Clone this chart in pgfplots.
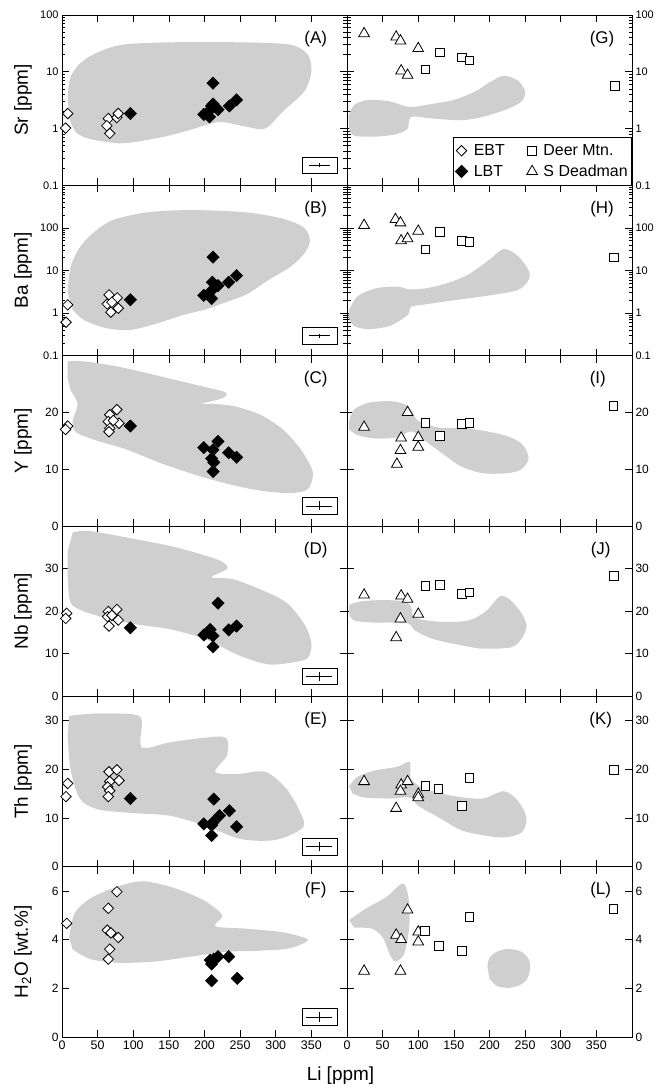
\documentclass[border=0pt]{standalone}
\usepackage{fontspec}
\setmainfont{Liberation Sans}
\usepackage{pgfplots}
\pgfplotsset{compat=1.18}

\definecolor{field}{gray}{0.81}

\pgfplotsset{
  panel/.style={
    scale only axis, width=285bp, height=170.33bp, anchor=south west,
    xmin=0, xmax=400, xtick={0,50,...,350},
    /pgf/number format/assume math mode=true,
    tick align=inside, major tick length=7bp, minor tick length=3.5bp,
    tick style={black, line width=0.6pt},
    axis line style={line width=0.8pt},
    x tick label style={font=\fontsize{12.5}{14}\selectfont},
    y tick label style={font=\fontsize{12}{14}\selectfont},
    ylabel style={font=\fontsize{19}{22}\selectfont, at={(axis description cs:-0.137,0.5)}, anchor=center},
    clip=false,
  },
  nox/.style={xticklabels={}},
  logA/.style={ymin=0.1, ymax=100, ytick={0.1,1,10,100}, yticklabels={0.1,1,10,100},
    minor ytick={0.2,0.3,0.4,0.5,0.6,0.7,0.8,0.9,2,3,4,5,6,7,8,9,20,30,40,50,60,70,80,90},
    y tick label style={font=\fontsize{11}{13}\selectfont}},
  logB/.style={ymin=0.1, ymax=1000, ytick={0.1,1,10,100}, yticklabels={0.1,1,10,100},
    minor ytick={0.2,0.3,0.4,0.5,0.6,0.7,0.8,0.9,2,3,4,5,6,7,8,9,20,30,40,50,60,70,80,90,200,300,400,500,600,700,800,900},
    y tick label style={font=\fontsize{11}{13}\selectfont}},
  rightpanel/.style={yticklabel pos=right},
  field/.style={fill=field, draw=none, forget plot, smooth},
  ebt/.style={only marks, mark=square*, mark size=3.7bp, mark options={rotate=45, fill=white, draw=black, line width=0.8pt}},
  lbt/.style={only marks, mark=square*, mark size=4.4bp, mark options={rotate=45, fill=black, draw=black}},
  deer/.style={only marks, mark=square*, mark size=4.3bp, mark options={fill=white, draw=black, line width=0.8pt}},
  sdead/.style={only marks, mark=triangle*, mark size=6.2bp, mark options={fill=white, draw=black, line width=0.8pt}},
  errbar/.style={forget plot, black, line width=0.7pt, mark=|, mark size=#1, mark options={line width=0.7pt},
    error bars/x dir=both, error bars/x explicit, error bars/error mark=none,
    error bars/error bar style={line width=0.7pt}},
}
\newcommand{\errbox}{\draw[line width=0.7pt] (rel axis cs:0.842,0.069) rectangle (rel axis cs:0.967,0.166);}
\newcommand{\plabel}[2]{\node[font=\fontsize{17}{20}\selectfont] at (rel axis cs:#1,0.86) {#2};}

\begin{document}
\begin{tikzpicture}

% (A) Sr
\begin{axis}[panel, nox, ymode=log, logA, at={(0bp,851.67bp)}, ylabel={Sr [ppm]}]
\addplot[field] coordinates {(8,4) (12,8) (25,14) (50,22) (85,30) (150,33) (250,33) (320,30) (345,20) (350,10) (340,4.5) (310,2) (285,1.0) (255,1.1) (220,1.3) (180,0.95) (150,0.75) (110,0.6) (80,0.55) (40,0.65) (20,0.85) (10,1.5)};
\errbox
\addplot[errbar=2bp] coordinates {(361,0.226) +- (15,0)};
\addplot[ebt] coordinates {(8,1.84) (5,1.02) (65,1.5) (63,1.12) (67,0.82) (77,1.56) (79,1.84)};
\addplot[lbt] coordinates {(96,1.84) (212,6.3) (245,3.2) (235,2.5) (199,1.77) (210,2.5) (219,2.16) (207,1.6) (205,1.95) (212,2.7)};
\plabel{0.89}{(A)}
\end{axis}

% (G) Sr
\begin{axis}[panel, nox, ymode=log, logA, rightpanel, at={(285bp,851.67bp)},
  legend columns=2, legend cell align=left,
  legend style={at={(1,0)}, anchor=south east, draw=black, line width=0.7pt,
    font=\fontsize{16}{18}\selectfont, inner xsep=2bp, inner ysep=5bp, row sep=4bp,
    /tikz/every odd column/.append style={column sep=4bp},
    /tikz/every even column/.append style={column sep=20bp}}]
\addplot[field] coordinates {(2,1.6) (10,2.6) (30,3.2) (60,3.0) (87,2.4) (110,2.6) (150,3.2) (180,4.5) (200,6.5) (220,8.5) (240,7) (250,4.5) (245,3) (225,2.2) (190,1.6) (160,1.4) (120,1.5) (90,1.6) (85,1.0) (70,0.8) (40,0.72) (10,0.75) (3,1.0)};
\addlegendimage{ebt}\addlegendentry{EBT}
\addlegendimage{deer}\addlegendentry{Deer Mtn.}
\addlegendimage{lbt}\addlegendentry{LBT}
\addlegendimage{sdead}\addlegendentry{S Deadman}
\addplot[sdead, forget plot] coordinates {(24,47) (69,41) (75,35) (100,25.7) (76,10.4) (85,8.7)};
\addplot[deer, forget plot] coordinates {(130,21.9) (110,11) (161,17.8) (172,15.9) (376,5.6)};
\plabel{0.895}{(G)}
\end{axis}

% (B) Ba
\begin{axis}[panel, nox, ymode=log, logB, at={(0bp,681.33bp)}, ylabel={Ba [ppm]}]
\addplot[field] coordinates {(8,3) (12,12) (25,35) (45,80) (70,150) (110,220) (150,255) (200,260) (260,230) (310,165) (340,100) (348,50) (340,25) (320,12) (290,6) (260,2.8) (230,1.8) (200,1.2) (170,0.9) (130,0.55) (95,0.4) (60,0.45) (30,0.7) (15,1.2)};
\errbox
\addplot[errbar=2bp] coordinates {(361,0.296) +- (15,0)};
\addplot[ebt] coordinates {(8,1.56) (5.6,0.61) (66,2.68) (63.5,1.64) (77.5,2.28) (79,1.3) (68.6,1.05) (70,1.8)};
\addplot[lbt] coordinates {(96,2.05) (212,20.6) (245,7.6) (234,5.3) (219,4.4) (211,5.3) (210,3.4) (199,2.6) (210,2.2)};
\plabel{0.89}{(B)}
\end{axis}

% (H) Ba
\begin{axis}[panel, nox, ymode=log, logB, rightpanel, at={(285bp,681.33bp)}]
\addplot[field] coordinates {(3,1.2) (15,2.5) (40,3.8) (70,4.2) (88,3.6) (110,3.8) (140,5) (170,8) (200,18) (220,32) (240,22) (255,10) (255,6) (240,3.5) (200,2.6) (150,2) (110,1.6) (90,1.4) (85,0.9) (60,0.5) (30,0.42) (10,0.5) (2,0.8)};
\addplot[sdead] coordinates {(24,115) (68,158) (75,132) (100,84) (76,50) (85,56)};
\addplot[deer] coordinates {(130,80) (110,31) (161,49) (172,47) (375,20.5)};
\plabel{0.895}{(H)}
\end{axis}

% (C) Y
\begin{axis}[panel, nox, at={(0bp,511bp)}, ymin=0, ymax=30, ytick={0,10,20}, ylabel={Y [ppm]}]
\addplot[field] coordinates {(8,29) (30,29) (60,28.5) (100,27.5) (150,26) (200,24.5) (230,23.5) (225,22.5) (195,21.5) (215,21.5) (245,21) (280,19.5) (310,17) (335,13.5) (352,9.5) (345,6.5) (320,5.8) (280,6.2) (240,7.2) (195,8.7) (140,11) (90,13.5) (50,15) (20,16.5) (15,18.5) (22,21.5) (12,24) (8,26)};
\errbox
\addplot[errbar=4.6bp] coordinates {(361,3.54) +- (18,0)};
\addplot[ebt] coordinates {(8,17.6) (5,17.0) (77,20.5) (67,19.6) (65,18.4) (80,18.1) (67,17.2) (66,16.6) (72,18.6)};
\addplot[lbt] coordinates {(96,17.6) (219,14.9) (199,13.8) (212,13.4) (210,11.9) (213,11.2) (212,9.6) (234,12.9) (245,12.1)};
\plabel{0.89}{(C)}
\end{axis}

% (I) Y
\begin{axis}[panel, nox, rightpanel, at={(285bp,511bp)}, ymin=0, ymax=30, ytick={0,10,20}]
\addplot[field] coordinates {(3,18.5) (10,20.5) (30,21.7) (60,22) (80,21.5) (90,20.5) (100,18.5) (130,17.3) (170,17.2) (220,16) (245,14.5) (255,12) (245,10) (225,9.3) (190,9.3) (160,10.5) (140,12.2) (115,14.5) (95,16.5) (85,16.5) (70,15.6) (40,15.4) (15,16) (3,17)};
\addplot[sdead] coordinates {(24,17.4) (85,20) (76,15.5) (100,15.6) (75,13.3) (100,13.9) (70,10.9)};
\addplot[deer] coordinates {(110,18.2) (130,15.9) (161,18) (172,18.2) (374,21.2)};
\plabel{0.88}{(I)}
\end{axis}

% (D) Nb
\begin{axis}[panel, nox, at={(0bp,340.67bp)}, ymin=0, ymax=40, ytick={0,10,20,30}, ylabel={Nb [ppm]}]
\addplot[field] coordinates {(15,38.5) (40,38.8) (100,37) (160,35) (220,32) (232,30) (210,28) (240,27.5) (280,25) (315,22) (340,17) (350,12.5) (345,9) (325,8) (290,7.5) (250,9.5) (200,13.5) (150,15.8) (100,17) (60,18.5) (30,20) (12,22) (8,28) (8,34)};
\errbox
\addplot[errbar=4.6bp] coordinates {(361,4.72) +- (18,0)};
\addplot[ebt] coordinates {(6.6,19.5) (5.2,18.3) (65,19.9) (77,20.4) (64,18.7) (79,17.9) (66,16.5) (70,19)};
\addplot[lbt] coordinates {(96,16.1) (219,21.9) (208,15.7) (199,14.4) (212,14.2) (212,11.6) (234,15.6) (245,16.5) (206,14.9)};
\plabel{0.89}{(D)}
\end{axis}

% (J) Nb
\begin{axis}[panel, nox, rightpanel, at={(285bp,340.67bp)}, ymin=0, ymax=40, ytick={0,10,20,30}]
\addplot[field] coordinates {(3,21.5) (20,22.3) (50,22.6) (80,22.3) (90,21) (95,18.5) (130,17.5) (170,17.8) (195,20) (215,23.5) (230,22.5) (245,19.5) (252,16.5) (245,13.5) (230,11.5) (190,11.2) (160,12) (120,13.5) (95,15.5) (88,17) (70,17.3) (40,17.3) (10,17.8) (3,19.5)};
\addplot[sdead] coordinates {(24,23.8) (76,23.6) (85,22.8) (100,19.3) (75,18.2) (69,13.8)};
\addplot[deer] coordinates {(110,25.9) (130,26.2) (161,24) (172,24.4) (375,28.3)};
\plabel{0.89}{(J)}
\end{axis}

% (E) Th
\begin{axis}[panel, nox, at={(0bp,170.33bp)}, ymin=0, ymax=35, ytick={0,10,20,30}, ylabel={Th [ppm]}]
\addplot[field] coordinates {(10,31) (50,31.5) (100,31.3) (112,30) (112,24.5) (150,25.5) (200,26.5) (230,26.5) (232,23) (215,19.5) (245,19) (285,19.5) (315,16) (335,11) (338,8) (300,5.5) (250,5.7) (200,8.5) (150,10.5) (100,11) (50,11.8) (25,14) (12,20) (8,27)};
\errbox
\addplot[errbar=4.6bp] coordinates {(361,4.13) +- (18,0)};
\addplot[ebt] coordinates {(8,17.1) (5.6,14.4) (66,19.5) (77,19.9) (67,17.5) (80,17.7) (64,16.4) (67,15.6) (65,14.4)};
\addplot[lbt] coordinates {(96,14) (213,13.9) (235,11.5) (221,10.5) (199,8.8) (212,9.1) (210,8.5) (210,6.4) (245,8.2)};
\plabel{0.89}{(E)}
\end{axis}

% (K) Th
\begin{axis}[panel, nox, rightpanel, at={(285bp,170.33bp)}, ymin=0, ymax=35, ytick={0,10,20,30}]
\addplot[field] coordinates {(3,16.5) (15,18.5) (40,19.8) (70,20.5) (88,21.5) (90,18) (110,16) (150,14.5) (190,14) (220,15.5) (240,13.5) (252,10) (245,7) (220,6) (190,6.5) (160,7.5) (130,10) (100,12.5) (88,14.2) (60,14) (25,14.2) (8,15)};
\addplot[sdead] coordinates {(24,17.5) (76,16.8) (85,17.5) (75,15.5) (100,14.9) (100,14.2) (69,12)};
\addplot[deer] coordinates {(110,16.6) (128,16) (172,18.2) (161,12.5) (375,19.9)};
\plabel{0.89}{(K)}
\end{axis}

% (F) H2O
\begin{axis}[panel, at={(0bp,0bp)}, ymin=0, ymax=7, ytick={0,2,4,6}, ylabel={H\textsubscript{2}O [wt.\%]},
  xlabel={Li [ppm]}, xlabel style={font=\fontsize{19}{22}\selectfont, at={(axis description cs:0.977,-0.225)}, anchor=center}]
\addplot[field] coordinates {(10,4.1) (18,5.1) (40,5.7) (80,6.2) (115,6.4) (160,6.1) (200,5.6) (225,5.0) (215,4.55) (260,4.45) (310,4.3) (345,4.0) (320,3.65) (280,3.55) (230,3.5) (180,3.3) (130,3.1) (80,3.05) (40,3.2) (15,3.6)};
\errbox
\addplot[errbar=4.6bp] coordinates {(361,0.826) +- (18,0)};
\addplot[ebt] coordinates {(6.6,4.67) (77,5.97) (65,5.29) (63.5,4.39) (68.6,4.28) (79,4.09) (67,3.61) (65,3.2)};
\addplot[lbt] coordinates {(208,3.16) (210,3.0) (219,3.3) (213,3.2) (234,3.3) (210,2.31) (246,2.41)};
\plabel{0.89}{(F)}
\end{axis}

% (L) H2O
\begin{axis}[panel, rightpanel, at={(285bp,0bp)}, ymin=0, ymax=7, ytick={0,2,4,6}]
\addplot[field] coordinates {(3,4.8) (25,5.25) (55,5.75) (72,6.2) (80,6.3) (86,5.8) (88,5.0) (86,4.2) (80,3.4) (68,3.1) (60,3.4) (50,4.1) (35,4.45) (10,4.5)};
\addplot[field] coordinates {(197,2.9) (200,3.25) (210,3.5) (227,3.62) (245,3.5) (255,3.2) (257,2.8) (252,2.35) (240,2.1) (225,2.02) (210,2.1) (200,2.4)};
\addplot[sdead] coordinates {(85,5.22) (69,4.19) (76,4.01) (100,4.32) (100,3.91) (24,2.71) (75,2.71)};
\addplot[deer] coordinates {(109,4.35) (129,3.74) (172,4.94) (161.5,3.55) (374,5.26)};
\plabel{0.89}{(L)}
\end{axis}

\pgfresetboundingbox
\path[use as bounding box] (-62bp,-55bp) rectangle (599bp,1037bp);
\end{tikzpicture}
\end{document}
